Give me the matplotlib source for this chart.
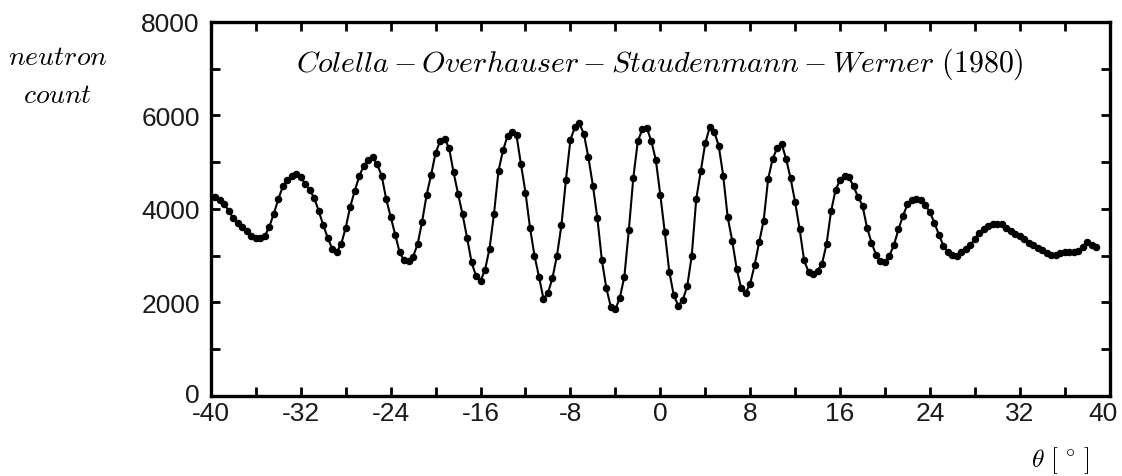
import numpy as np
import matplotlib
matplotlib.use("Agg")
import matplotlib.pyplot as plt
from matplotlib.ticker import MultipleLocator
from matplotlib.transforms import ScaledTranslation

plt.rcParams['mathtext.fontset'] = 'cm'

# neutron counts, one every 0.4 degrees starting at -40
counts = [
    4260, 4250, 4200, 4100, 3950, 3800, 3700, 3620, 3520, 3420,
    3370, 3370, 3420, 3620, 3900, 4210, 4480, 4620, 4700, 4750,
    4680, 4530, 4400, 4230, 3950, 3650, 3380, 3140, 3080, 3250,
    3600, 4050, 4380, 4700, 4920, 5050, 5100, 4950, 4710, 4210,
    3830, 3450, 3070, 2900, 2880, 2980, 3250, 3730, 4300, 4730,
    5200, 5450, 5500, 5300, 4780, 4320, 3880, 3380, 2860, 2560,
    2460, 2700, 3150, 3900, 4820, 5250, 5560, 5640, 5570, 4950,
    4350, 3600, 3000, 2550, 2080, 2200, 2520, 3000, 3650, 4620,
    5480, 5750, 5830, 5600, 5100, 4500, 3800, 2900, 2300, 1900,
    1850, 2100, 2550, 3550, 4670, 5450, 5700, 5730, 5450, 5050,
    4300, 3500, 2660, 2150, 1930, 2050, 2350, 3000, 4210, 4800,
    5400, 5750, 5650, 5350, 4710, 3820, 3320, 2720, 2300, 2200,
    2400, 2800, 3290, 3750, 4640, 5070, 5300, 5390, 5070, 4650,
    4150, 3570, 2900, 2650, 2610, 2680, 2830, 3250, 3950, 4400,
    4620, 4710, 4680, 4480, 4260, 4070, 3600, 3280, 3020, 2880,
    2860, 3000, 3230, 3560, 3850, 4100, 4180, 4220, 4200, 4080,
    3930, 3700, 3450, 3210, 3080, 3010, 3000, 3080, 3150, 3230,
    3350, 3480, 3580, 3630, 3670, 3680, 3670, 3600, 3530, 3470,
    3410, 3350, 3280, 3220, 3160, 3110, 3060, 3010, 3020, 3060,
    3070, 3080, 3070, 3090, 3180, 3290, 3230, 3180,
]
theta_start = -40.0
theta_step = 0.4
theta = np.round(theta_start + theta_step * np.arange(len(counts)), 2)

xticks = [-40, -32, -24, -16, -8, 0, 8, 16, 24, 32, 40]
xtick_labels = ['-40', '-32', '-24', '-16', '-8', '0', '8', '16', '24', '32', '40']
yticks = [0, 2000, 4000, 6000, 8000]
ytick_labels = ['0', '2000', '4000', '6000', '8000']

title_text = r'$Colella - Overhauser - Staudenmann - Werner\ (1980)$'
ylabel_lines = [r'$neutron$', r'$count$']
xlabel_text = r'$\theta\ [\,^\circ\,]$'

fig = plt.figure(figsize=(11.22, 4.77), dpi=100)
ax = fig.add_axes([0.188, 0.168, 0.801, 0.784])

ax.plot(theta, counts, color='black', lw=1.5, marker='o', ms=4.4,
        mfc='black', mec='black', zorder=3)

ax.set_xlim(-40, 40)
ax.set_ylim(0, 8000)
ax.set_xticks(xticks)
ax.set_xticklabels(xtick_labels)
ax.set_yticks(yticks)
ax.set_yticklabels(ytick_labels)
ax.xaxis.set_minor_locator(MultipleLocator(4))
ax.yaxis.set_minor_locator(MultipleLocator(1000))

for sp in ax.spines.values():
    sp.set_linewidth(2.4)

ax.tick_params(which='both', direction='in', top=True, right=True,
               length=6.5, width=2.0, labelsize=19)
ax.tick_params(axis='x', which='major', pad=4)
ax.tick_params(axis='y', which='major', pad=8)
for lab in ax.get_xticklabels() + ax.get_yticklabels():
    lab.set_family('Liberation Sans')
    lab.set_color('#1a1a1a')

last = ax.get_xticklabels()[-1]
last.set_transform(last.get_transform() + ScaledTranslation(-7 / 100, 0, fig.dpi_scale_trans))
zero = ax.get_yticklabels()[0]
zero.set_transform(zero.get_transform() + ScaledTranslation(0, 3 / 100, fig.dpi_scale_trans))

ax.text(0.5, 0.89, title_text, transform=ax.transAxes,
        ha='center', va='center', fontsize=21.5)

fig.text(58 / 1122, 1 - 57 / 477, ylabel_lines[0], ha='center', va='center', fontsize=20)
fig.text(58 / 1122, 1 - 95 / 477, ylabel_lines[1], ha='center', va='center', fontsize=20)
fig.text(1060 / 1122, 1 - 461 / 477, xlabel_text, ha='center', va='center', fontsize=18.5)

fig.savefig('out.png', dpi=100, facecolor='white')
